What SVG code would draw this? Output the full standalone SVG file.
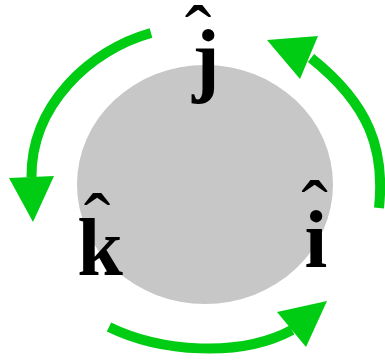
<svg xmlns="http://www.w3.org/2000/svg" width="385" height="362" viewBox="0 0 385 362">
<style>
.arc{fill:none;stroke:#00cc14;stroke-width:10}
.head{fill:#00cc14}
.lbl{font-family:"Liberation Serif","Times New Roman",serif;font-weight:bold;font-size:82px;fill:#000;text-anchor:middle}
.hat{font-weight:normal;font-size:80px}
</style>
<rect width="385" height="362" fill="#fff"/>
<g id="sphere">
<ellipse cx="205" cy="184.5" rx="128" ry="119.5" fill="#c7c7c7"/>
</g>
<g id="connectors">
<path class="arc" d="M151,33 C90,50 31,105 31.5,177"/>
<polygon class="head" points="9,178 54,176 33,222"/>
<path class="arc" d="M379,208 C385,150 370,105 311,58"/>
<polygon class="head" points="267,40 318,36 300,79"/>
<path class="arc" d="M109,327 C160,352 240,358 292,330"/>
<polygon class="head" points="277,312 327,301 306,347"/>
</g>
<g id="j">
<text class="lbl" x="206" y="86">j<tspan class="hat" x="198" y="61">ˆ</tspan></text>
</g>
<g id="k">
<text class="lbl" x="100" y="275">k<tspan class="hat" x="97" y="249">ˆ</tspan></text>
</g>
<g id="i">
<text class="lbl" x="316" y="267">i<tspan class="hat" x="314.5" y="236">ˆ</tspan></text>
</g>
</svg>
